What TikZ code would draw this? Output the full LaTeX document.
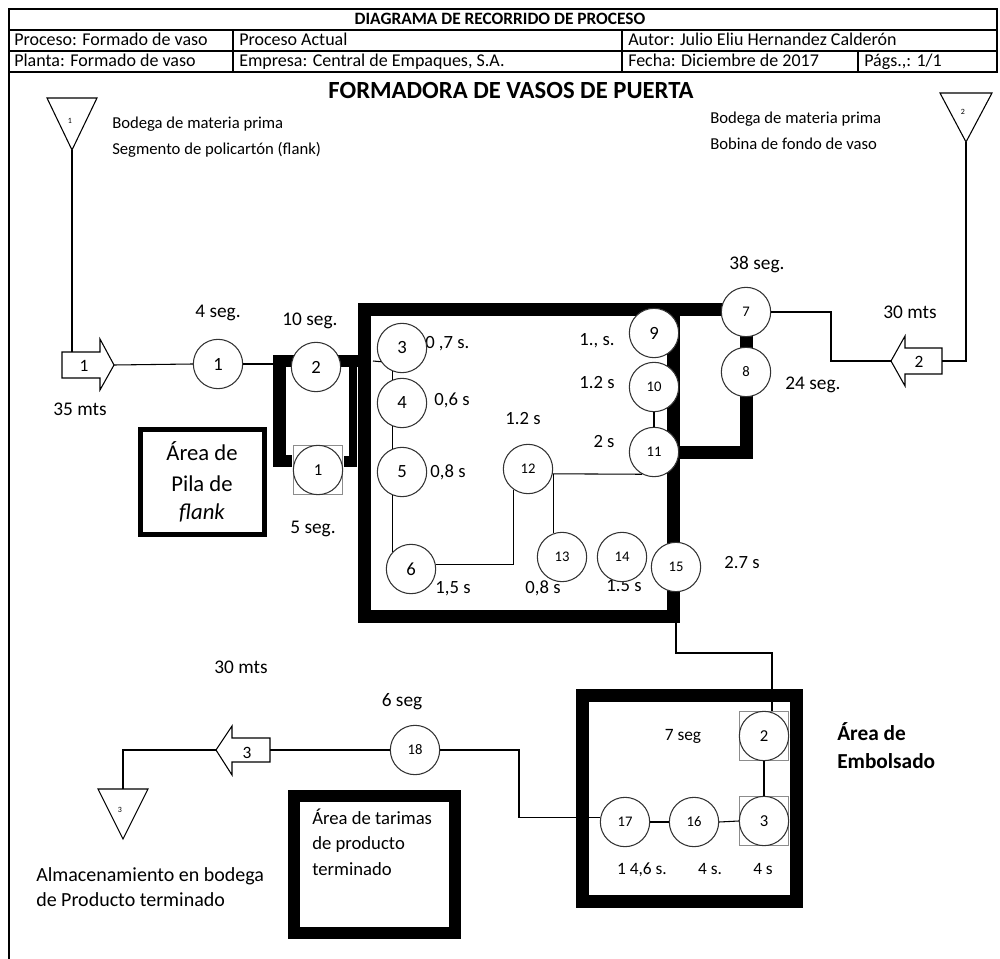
\documentclass[tikz,border=0pt]{standalone}
\usepackage{fontspec}
\setmainfont{Carlito}
\begin{document}
\begin{tikzpicture}[x=0.75pt,y=-0.75pt,line join=miter,
 ln/.style={line width=0.8pt},
 wall/.style={line width=9.75pt},
 opc/.style={circle, draw=black!80, line width=0.8pt, fill=white, minimum size=37pt, inner sep=0pt},
 sqb/.style={rectangle, draw=black!45, line width=0.8pt, minimum size=37pt, inner sep=0pt},
 fbig/.style={font=\fontsize{14}{16}\selectfont},
 fsml/.style={font=\fontsize{11}{13}\selectfont},
 fins/.style={font=\fontsize{12.5}{14}\selectfont},
 ftm/.style={font=\fontsize{14.5}{17}\selectfont, inner sep=0pt, anchor=base},
 fs/.style={font=\fontsize{14}{17}\selectfont, inner sep=0pt, anchor=base},
 fsb/.style={font=\fontsize{13}{16}\selectfont, inner sep=0pt, anchor=base},
 fhd/.style={font=\fontsize{13.5}{16}\selectfont, anchor=base west, inner sep=0pt},
 fbd/.style={font=\fontsize{12.5}{15}\selectfont, anchor=base west, inner sep=0pt},
 ftiny/.style={font=\fontsize{6}{7}\selectfont, inner sep=0pt},
 farr/.style={font=\fontsize{13}{15}\selectfont, inner sep=0pt}]
\useasboundingbox (0,0) rectangle (1000,959);

% ---------- header ----------
\draw[ln] (9,9) -- (9,959);
\draw[ln] (9,9) rectangle (997,72);
\draw[ln] (9,30) -- (997,30);
\draw[ln] (9,51) -- (997,51);
\draw[ln] (233,30) -- (233,72);
\draw[ln] (622,30) -- (622,72);
\draw[ln] (858,51) -- (858,72);
\node[font=\fontsize{13}{15}\selectfont\bfseries, inner sep=0pt, anchor=base] (hdr) at (500,25) {DIAGRAMA DE RECORRIDO DE PROCESO};
\node[fhd] (h1) at (14,46) {Proceso: Formado de vaso};
\node[fhd] (h2) at (239,46) {Proceso Actual};
\node[fhd] (h3) at (628,46) {Autor: Julio Eliu Hernandez Calderón};
\node[fhd] (h4) at (14,67) {Planta: Formado de vaso};
\node[fhd] (h5) at (239,67) {Empresa: Central de Empaques, S.A.};
\node[fhd] (h6) at (628,67) {Fecha: Diciembre de 2017};
\node[fhd] (h7) at (864,67) {Págs.,: 1/1};
\node[font=\fontsize{18.5}{21}\selectfont\bfseries, inner sep=0pt, anchor=base] (title) at (511,99) {FORMADORA DE VASOS DE PUERTA};

% ---------- walls ----------
\draw[wall] (746,309.5) -- (364.5,309.5) -- (364.5,616) -- (673,616) -- (673,309.5);
\draw[wall] (746,309.5) -- (746,452) -- (673,452);
\fill (273,355) rectangle (286,467);
\fill (273,455) rectangle (292,467);
\fill (273,355) rectangle (359,367);
\fill (349,355) rectangle (356.5,467);
\fill (344,456) rectangle (356.5,467);
\draw[wall] (582.5,695.5) rectangle (796.5,901.5);
\draw[line width=9pt] (294,796) rectangle (455,933);
\draw[line width=3.75pt] (140.5,429.5) rectangle (264.5,534.5);

% ---------- storage triangles and arrows ----------
\coordinate (t1apex) at (72,150);
\draw[ln] (47,98) -- (97,98) -- (t1apex) -- cycle;
\node[ftiny] (t1l) at (70,121) {1};
\coordinate (t2apex) at (966,142);
\draw[ln] (940,93) -- (992,93) -- (t2apex) -- cycle;
\node[ftiny] (t2l) at (963,112) {2};
\coordinate (t3top) at (123,789);
\draw[ln] (98,789) -- (148,789) -- (123,839) -- cycle;
\node[ftiny] (t3l) at (120,810) {3};

\coordinate (a1top) at (72,352);
\coordinate (a1tip) at (114,365);
\draw[ln] (62,352) -- (100,352) -- (100,339) -- (a1tip) -- (100,390) -- (100,378) -- (62,378) -- cycle;
\node[farr] (a1l) at (84,366) {1};

\coordinate (a2tip) at (891,361);
\coordinate (a2tail) at (942,361);
\draw[ln] (942,348) -- (905,348) -- (905,336) -- (a2tip) -- (905,386) -- (905,374) -- (942,374) -- cycle;
\node[farr] (a2l) at (919,362) {2};

\coordinate (a3tip) at (216,750);
\coordinate (a3tail) at (270,750);
\draw[ln] (270,738) -- (232,738) -- (232,726) -- (a3tip) -- (232,775) -- (232,762) -- (270,762) -- cycle;
\node[farr] (a3l) at (247,753) {3};

% ---------- texts ----------
\node[fbd] (b1) at (112,129) {Bodega de materia prima};
\node[fbd] (b2) at (112,155) {Segmento de policartón (flank)};
\node[fbd] (b3) at (710,124) {Bodega de materia prima};
\node[fbd] (b4) at (710,150) {Bobina de fondo de vaso};

\node[ftm] (tA) at (218,318) {4 seg.};
\node[ftm] (tB) at (310,326) {10 seg.};
\node[ftm] (tC) at (80,416) {35 mts};
\node[ftm] (tD) at (313,533) {5 seg.};
\node[ftm] (tE) at (757,270) {38 seg.};
\node[ftm] (tF) at (910,319) {30 mts};
\node[ftm] (tG) at (813,390) {24 seg.};
\node[ftm] (tH) at (241,673) {30 mts};
\node[ftm] (tI) at (402,706) {6 seg};

\node[fs, anchor=base west] (s3) at (425,349) {0 ,7 s.};
\node[fs] (s4) at (452,406) {0,6 s};
\node[fs] (s5) at (448,477) {0,8 s};
\node[fs] (s6) at (453,593) {1,5 s};
\node[fs] (s12) at (523,424) {1.2 s};
\node[fs] (s13) at (543,593) {0,8 s};
\node[fs] (s14) at (624,591) {1.5 s};
\node[fs] (s15) at (742,568) {2.7 s};
\node[fs] (s9) at (597,346) {1., s.};
\node[fs] (s10) at (597,388) {1.2 s};
\node[fs] (s11) at (604,447) {2 s};

\node[fsb] (s7) at (683,740) {7 seg};
\node[fsb] (s17) at (642,874) {1 4,6 s.};
\node[fsb] (s16) at (710,874) {4 s.};
\node[fsb] (si3) at (763,874) {4 s};

\node[font=\fontsize{16}{20}\selectfont\bfseries, anchor=base west, inner sep=0pt] (emb1) at (837,740) {Área de};
\node[font=\fontsize{16}{20}\selectfont\bfseries, anchor=base west, inner sep=0pt] (emb2) at (837,768) {Embolsado};

\node[font=\fontsize{15}{17}\selectfont, anchor=base west, inner sep=0pt] (alm1) at (36,881) {Almacenamiento en bodega};
\node[font=\fontsize{15}{17}\selectfont, anchor=base west, inner sep=0pt] (alm2) at (36,906) {de Producto terminado};

\node[font=\fontsize{14}{16}\selectfont, anchor=base west, inner sep=0pt] (tar1) at (312,824) {Área de tarimas};
\node[font=\fontsize{14}{16}\selectfont, anchor=base west, inner sep=0pt] (tar2) at (312,849) {de producto};
\node[font=\fontsize{14}{16}\selectfont, anchor=base west, inner sep=0pt] (tar3) at (312,875) {terminado};

\node[font=\fontsize{17}{20}\selectfont, inner sep=0pt, anchor=base] (pil1) at (202,460) {Área de};
\node[font=\fontsize{17}{20}\selectfont, inner sep=0pt, anchor=base] (pil2) at (202,491) {Pila de};
\node[font=\fontsize{17}{20}\selectfont\itshape, inner sep=0pt, anchor=base] (pil3) at (202,519) {flank};

% ---------- operations ----------
\node[opc, fbig] (o1) at (218,364) {1};
\node[opc, fbig] (o2) at (316,367) {2};
\node[sqb] (i1s) at (318,470) {};
\node[opc, fins] (i1) at (318,470) {1};
\node[opc, fbig] (o3) at (402,348) {3};
\node[opc, fbig] (o4) at (402,403) {4};
\node[opc, fbig] (o5) at (402,472) {5};
\node[opc, fbig] (o6) at (411,569) {6};
\node[opc, fsml] (o12) at (528,469) {12};
\node[opc, fsml] (o13) at (562,557) {13};
\node[opc, fsml] (o14) at (622,557) {14};
\node[opc, fsml] (o15) at (676,567) {15};
\node[opc, fbig] (o9) at (654,333) {9};
\node[opc, fsml] (o10) at (654,387) {10};
\node[opc, fsml] (o11) at (654,452) {11};
\node[opc, fsml] (o7) at (746,312) {7};
\node[opc, fsml] (o8) at (746,372) {8};
\node[opc, fsml] (o18) at (415,750) {18};
\node[opc, fsml] (o17) at (625,822) {17};
\node[opc, fsml] (o16) at (694,822) {16};
\node[sqb] (i2s) at (764,736) {};
\node[opc, fins] (i2) at (764,736) {2};
\node[sqb] (i3s) at (764,821) {};
\node[opc, fins] (i3) at (764,821) {3};

% ---------- connectors ----------
\coordinate (bar1) at (273,364);
\coordinate (win) at (373,361);
\coordinate (k7) at (831,312);
\coordinate (k15) at (772,653);
\coordinate (k18) at (519,750);

\draw[ln] (t1apex) -- (a1top);
\draw[ln] (a1tip) -- (o1.west);
\draw[ln] (o1.east) -- (bar1);
\draw[ln] (win) -- (o3.213);
\draw[ln] (o3.248) -- (o4.112);
\draw[ln] (o4.248) -- (o5.112);
\draw[ln] (o5.248) -- (o5.248 |- o6.139);
\draw[ln] (o6.10) -| (o12.236);
\draw[ln] (o12.-11) -- (o11.242);
\draw[ln] (o13.109) -- (o13.109 |- o11.242);
\draw[ln] (o10.south) -- (o11.north);
\draw[ln] (o7.east) -- (k7) |- (a2tip);
\draw[ln] (a2tail) -| (t2apex);
\draw[ln] (o15.south) |- (k15) -- (k15 |- i2s.north);
\draw[ln] (i2s.south) -- (i3s.north);
\draw[ln] (i3s.west) -- (o16.east);
\draw[ln] (o16.west) -- (o17.east);
\draw[ln] (o18.east) -- (k18) |- (o17.170);
\draw[ln] (a3tail) -- (o18.west);
\draw[ln] (a3tip) -| (t3top);
\end{tikzpicture}
\end{document}
